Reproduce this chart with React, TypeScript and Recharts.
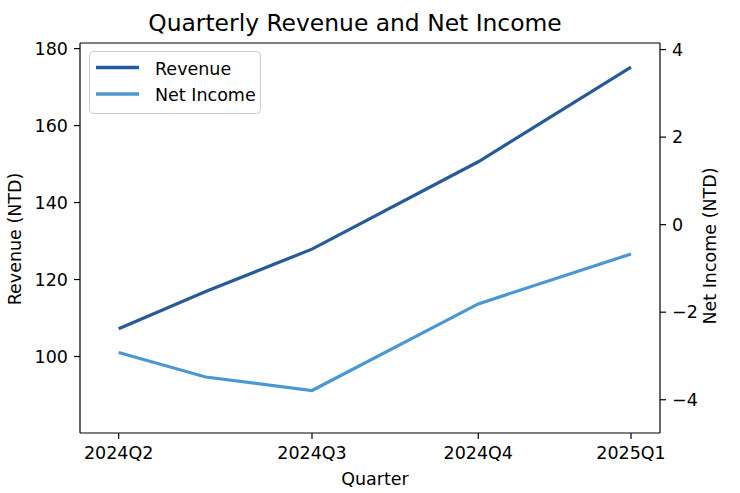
import React from 'react';
import { LineChart, Line, XAxis, YAxis, Legend } from 'recharts';

// Data
const xPositions = [0, 0.45, 1, 1.86, 2.65];
const revenue = [107.2, 116.9, 127.9, 150.6, 175.2];
const netIncome = [-2.92, -3.48, -3.79, -1.81, -0.67];
const quarterTicks = [0, 1, 1.86, 2.65];
const quarterLabels = ['2024Q2', '2024Q3', '2024Q4', '2025Q1'];
const revenueTicks = [100, 120, 140, 160, 180];
const incomeTicks = [-4, -2, 0, 2, 4];

const data = xPositions.map((x, i) => ({ x, revenue: revenue[i], netIncome: netIncome[i] }));

const FONT = '"DejaVu Sans", sans-serif';
const REV_COLOR = '#265b97';
const NI_COLOR = '#4b97d2';

const fmt = (v: number) => (v < 0 ? '\u2212' + Math.abs(v) : String(v));

const XTick = (props: any) => {
  const { x, payload } = props;
  const idx = quarterTicks.indexOf(payload.value);
  return (
    <text x={x} y={459} textAnchor="middle" fontSize={17.5} fontFamily={FONT} fill="#000">
      {idx >= 0 ? quarterLabels[idx] : ''}
    </text>
  );
};

const LeftTick = (props: any) => {
  const { y, payload } = props;
  return (
    <text x={68} y={y} dy={6.3} textAnchor="end" fontSize={17.5} fontFamily={FONT} fill="#000">
      {fmt(payload.value)}
    </text>
  );
};

const RightTick = (props: any) => {
  const { y, payload } = props;
  return (
    <text x={672} y={y} dy={6.3} textAnchor="start" fontSize={17.5} fontFamily={FONT} fill="#000">
      {fmt(payload.value)}
    </text>
  );
};

const LegendBox = () => (
  <svg width={172} height={63} style={{ display: 'block' }}>
    <rect x={0.5} y={0.5} width={171} height={62} rx={4} ry={4} fill="#fff" fillOpacity={0.8} stroke="#cccccc" strokeWidth={1} />
    <line x1={7} y1={16.5} x2={50} y2={16.5} stroke={REV_COLOR} strokeWidth={3.3} />
    <text x={66} y={23.5} fontSize={17.5} fontFamily={FONT} fill="#000">Revenue</text>
    <line x1={7} y1={43} x2={50} y2={43} stroke={NI_COLOR} strokeWidth={3.3} />
    <text x={66} y={50} fontSize={17.5} fontFamily={FONT} fill="#000">Net Income</text>
  </svg>
);

export default function App() {
  return (
    <div style={{ position: 'absolute', left: 0, top: 0, width: 740, height: 493, background: '#fff' }}>
      <svg width={740} height={40} style={{ position: 'absolute', left: 0, top: 0 }}>
        <text x={355} y={31} textAnchor="middle" fontSize={23.4} fontFamily={FONT} fill="#000">
          Quarterly Revenue and Net Income
        </text>
      </svg>
      <LineChart width={740} height={493} data={data} margin={{ top: 42, right: 0, bottom: 0, left: 0 }}>
        <XAxis
          dataKey="x"
          type="number"
          domain={[-0.2, 2.8]}
          allowDataOverflow
          ticks={quarterTicks}
          tick={<XTick />}
          tickSize={6}
          height={60}
          stroke="#000"
          axisLine={{ stroke: '#000', strokeWidth: 1.2 }}
          tickLine={{ stroke: '#000', strokeWidth: 1.2 }}
          label={() => (
            <text x={375} y={485} textAnchor="middle" fontSize={17.5} fontFamily={FONT} fill="#000">
              Quarter
            </text>
          )}
        />
        <XAxis
          xAxisId="top"
          dataKey="x"
          orientation="top"
          type="number"
          domain={[-0.2, 2.8]}
          allowDataOverflow
          height={1}
          ticks={quarterTicks}
          tick={false}
          tickLine={false}
          stroke="#000"
          axisLine={{ stroke: '#000', strokeWidth: 1.2 }}
        />
        <YAxis
          yAxisId="rev"
          orientation="left"
          width={80}
          type="number"
          domain={[80.13, 181.45]}
          allowDataOverflow
          ticks={revenueTicks}
          tick={<LeftTick />}
          tickSize={6}
          axisLine={{ stroke: '#000', strokeWidth: 1.2 }}
          tickLine={{ stroke: '#000', strokeWidth: 1.2 }}
          label={() => (
            <text
              x={21}
              y={239}
              transform="rotate(-90, 21, 239)"
              textAnchor="middle"
              fontSize={17.5}
              fontFamily={FONT}
              fill="#000"
            >
              Revenue (NTD)
            </text>
          )}
        />
        <YAxis
          yAxisId="ni"
          orientation="right"
          width={80}
          type="number"
          domain={[-4.76, 4.15]}
          allowDataOverflow
          ticks={incomeTicks}
          tick={<RightTick />}
          tickSize={6}
          axisLine={{ stroke: '#000', strokeWidth: 1.2 }}
          tickLine={{ stroke: '#000', strokeWidth: 1.2 }}
          label={() => (
            <text
              x={716}
              y={246}
              transform="rotate(-90, 716, 246)"
              textAnchor="middle"
              fontSize={17.5}
              fontFamily={FONT}
              fill="#000"
            >
              Net Income (NTD)
            </text>
          )}
        />
        <Legend
          layout="vertical"
          align="center"
          verticalAlign="middle"
          content={() => <LegendBox />}
          wrapperStyle={{ position: 'absolute', left: 89, top: 51, width: 172, height: 63 }}
        />
        <Line
          yAxisId="rev"
          dataKey="revenue"
          name="Revenue"
          type="linear"
          stroke={REV_COLOR}
          strokeWidth={3.2}
          dot={false}
          activeDot={false}
          isAnimationActive={false}
        />
        <Line
          yAxisId="ni"
          dataKey="netIncome"
          name="Net Income"
          type="linear"
          stroke={NI_COLOR}
          strokeWidth={3.2}
          dot={false}
          activeDot={false}
          isAnimationActive={false}
        />
      </LineChart>
    </div>
  );
}
